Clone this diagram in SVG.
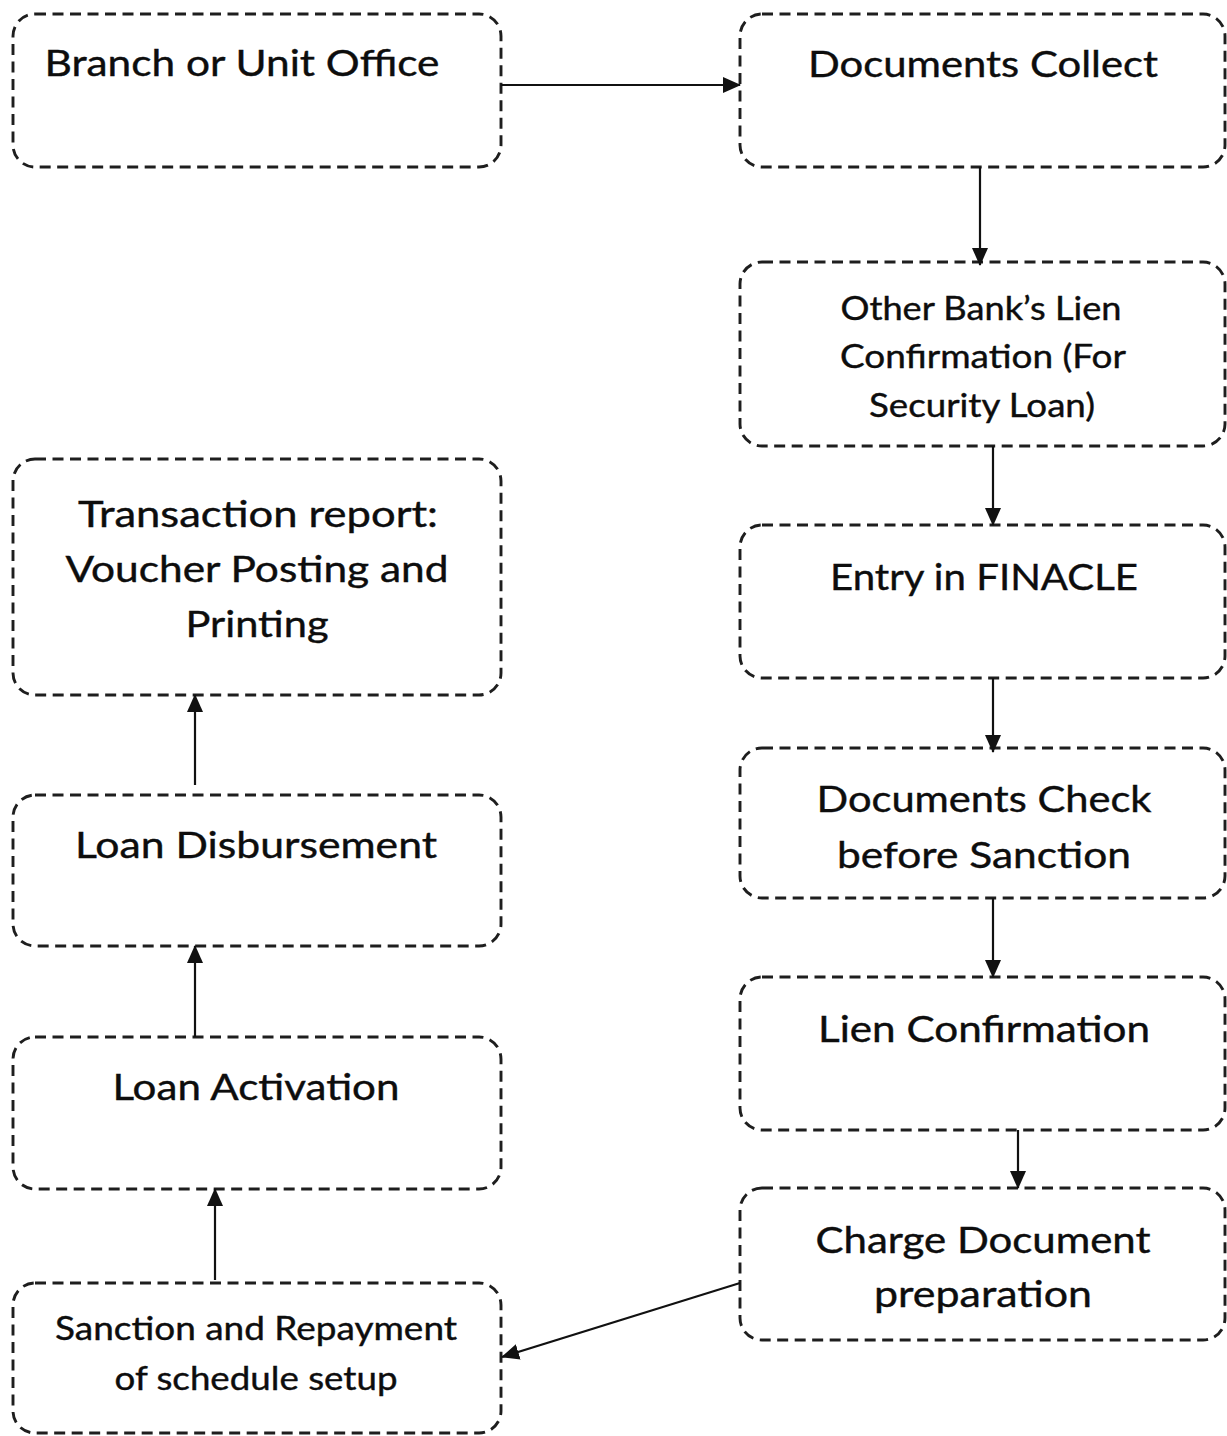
<svg xmlns="http://www.w3.org/2000/svg" width="1227" height="1436" viewBox="0 0 1227 1436">
<style>
.box{fill:#fff;stroke:#1e1e1e;stroke-width:2.9;stroke-dasharray:11 6.5}
.t{font-family:Lato,"Open Sans","Liberation Sans",sans-serif;fill:#0d0d0d;text-anchor:middle;stroke:#0d0d0d;stroke-width:0.4}
.b{font-size:37px}
.s{font-size:32px}
.c{stroke:#111;stroke-width:2.2;fill:none;marker-end:url(#ah)}
</style>
<defs>
<marker id="ah" markerUnits="userSpaceOnUse" markerWidth="18" markerHeight="16" refX="17" refY="8" orient="auto">
<path d="M0,0 L18,8 L0,16 Z" fill="#111"/>
</marker>
</defs>
<rect width="1227" height="1436" fill="#fff"/>
<g id="n-branch"><rect class="box" x="13" y="14" width="488" height="153" rx="22"/><text class="t b" x="242" y="76" textLength="395" lengthAdjust="spacingAndGlyphs">Branch or Unit Office</text></g>
<g id="n-collect"><rect class="box" x="740" y="14" width="485" height="153" rx="22"/><text class="t b" x="983" y="77" textLength="350" lengthAdjust="spacingAndGlyphs">Documents Collect</text></g>
<g id="n-otherbank"><rect class="box" x="740" y="262" width="485" height="184" rx="22"/>
<text class="t s" x="981" y="320" textLength="281" lengthAdjust="spacingAndGlyphs">Other Bank’s Lien</text>
<text class="t s" x="983" y="368" textLength="286" lengthAdjust="spacingAndGlyphs">Confirmation (For</text>
<text class="t s" x="982" y="417" textLength="226" lengthAdjust="spacingAndGlyphs">Security Loan)</text></g>
<g id="n-finacle"><rect class="box" x="740" y="525" width="485" height="153" rx="22"/><text class="t b" x="984" y="590" textLength="308" lengthAdjust="spacingAndGlyphs">Entry in FINACLE</text></g>
<g id="n-check"><rect class="box" x="740" y="748" width="485" height="150" rx="22"/>
<text class="t b" x="984" y="812" textLength="335" lengthAdjust="spacingAndGlyphs">Documents Check</text>
<text class="t b" x="984" y="868" textLength="294" lengthAdjust="spacingAndGlyphs">before Sanction</text></g>
<g id="n-lien"><rect class="box" x="740" y="977" width="485" height="153" rx="22"/><text class="t b" x="984" y="1042" textLength="332" lengthAdjust="spacingAndGlyphs">Lien Confirmation</text></g>
<g id="n-charge"><rect class="box" x="740" y="1188" width="485" height="152" rx="22"/>
<text class="t b" x="983" y="1253" textLength="335" lengthAdjust="spacingAndGlyphs">Charge Document</text>
<text class="t b" x="983" y="1307" textLength="218" lengthAdjust="spacingAndGlyphs">preparation</text></g>
<g id="n-transaction"><rect class="box" x="13" y="459" width="488" height="236" rx="22"/>
<text class="t b" x="258" y="527" textLength="360" lengthAdjust="spacingAndGlyphs">Transaction report:</text>
<text class="t b" x="257" y="582" textLength="383" lengthAdjust="spacingAndGlyphs">Voucher Posting and</text>
<text class="t b" x="257" y="637" textLength="143" lengthAdjust="spacingAndGlyphs">Printing</text></g>
<g id="n-disburse"><rect class="box" x="13" y="795" width="488" height="151" rx="22"/><text class="t b" x="256" y="858" textLength="362" lengthAdjust="spacingAndGlyphs">Loan Disbursement</text></g>
<g id="n-activation"><rect class="box" x="13" y="1037" width="488" height="152" rx="22"/><text class="t b" x="256" y="1100" textLength="287" lengthAdjust="spacingAndGlyphs">Loan Activation</text></g>
<g id="n-sanction"><rect class="box" x="13" y="1283" width="488" height="150" rx="22"/>
<text class="t s" x="256" y="1340" textLength="402" lengthAdjust="spacingAndGlyphs">Sanction and Repayment</text>
<text class="t s" x="256" y="1390" textLength="283" lengthAdjust="spacingAndGlyphs">of schedule setup</text></g>
<g id="connectors">
<line class="c" x1="501" y1="85" x2="740" y2="85"/>
<line class="c" x1="980" y1="167" x2="980" y2="265"/>
<line class="c" x1="993" y1="446" x2="993" y2="525"/>
<line class="c" x1="993" y1="678" x2="993" y2="752"/>
<line class="c" x1="993" y1="898" x2="993" y2="977"/>
<line class="c" x1="1018" y1="1130" x2="1018" y2="1188"/>
<line class="c" x1="740" y1="1283" x2="502" y2="1357"/>
<line class="c" x1="215" y1="1280" x2="215" y2="1189"/>
<line class="c" x1="195" y1="1037" x2="195" y2="946"/>
<line class="c" x1="195" y1="785" x2="195" y2="695"/>
</g>
</svg>
